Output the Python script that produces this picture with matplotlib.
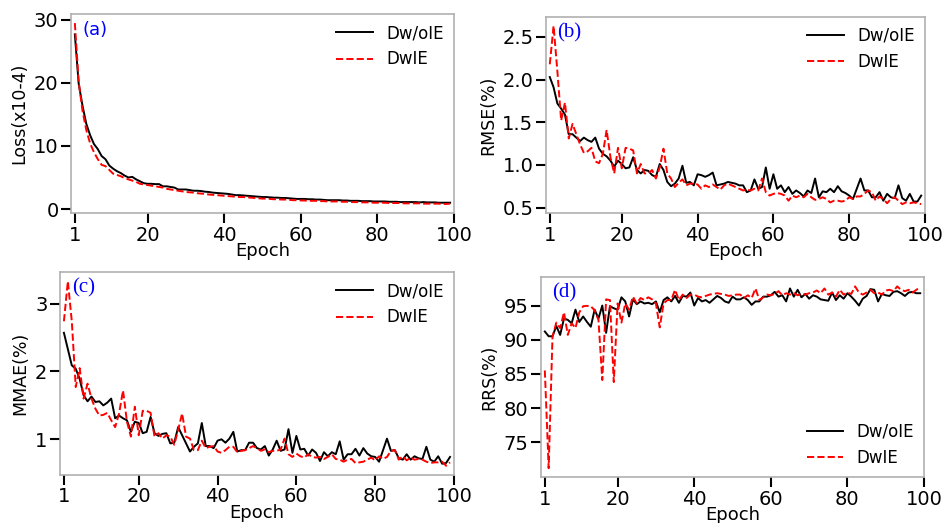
import numpy as np
import matplotlib
matplotlib.use("Agg")
from matplotlib import pyplot as plt

epochs = list(range(1, 100))

# (a) loss (x10-4)
loss_wo = [27.7, 19.9, 16.4, 13.5, 11.7, 10.3, 9.5, 8.4, 7.9, 6.9,
           6.4, 6.0, 5.7, 5.3, 5.0, 5.1, 4.7, 4.4, 4.1, 4.0,
           4.0, 3.95, 3.95, 3.6, 3.6, 3.5, 3.4, 3.1, 3.1, 3.1,
           3.0, 2.9, 2.9, 2.85, 2.75, 2.7, 2.6, 2.55, 2.5, 2.45,
           2.4, 2.3, 2.2, 2.2, 2.15, 2.1, 2.05, 2.0, 1.95, 1.9,
           1.9, 1.85, 1.8, 1.8, 1.75, 1.75, 1.7, 1.65, 1.6, 1.6,
           1.6, 1.55, 1.55, 1.5, 1.5, 1.45, 1.4, 1.4, 1.4, 1.4,
           1.35, 1.35, 1.3, 1.3, 1.3, 1.25, 1.25, 1.25, 1.2, 1.2,
           1.2, 1.2, 1.15, 1.15, 1.15, 1.1, 1.1, 1.1, 1.1, 1.1,
           1.05, 1.1, 1.05, 1.05, 1.05, 1.0, 1.0, 1.0, 1.0]
loss_w = [29.5, 20.2, 15.6, 12.5, 10.4, 9.0, 7.9, 7.0, 6.8, 6.2,
          5.6, 5.4, 5.2, 4.9, 4.7, 4.5, 4.3, 4.0, 3.9, 3.8,
          3.7, 3.6, 3.5, 3.4, 3.2, 3.1, 3.0, 2.9, 2.8, 2.7,
          2.65, 2.6, 2.5, 2.45, 2.4, 2.3, 2.25, 2.2, 2.15, 2.1,
          2.05, 2.0, 1.95, 1.9, 1.9, 1.85, 1.8, 1.75, 1.7, 1.65,
          1.65, 1.6, 1.55, 1.55, 1.5, 1.5, 1.45, 1.4, 1.4, 1.35,
          1.35, 1.3, 1.3, 1.3, 1.25, 1.25, 1.2, 1.2, 1.2, 1.2,
          1.15, 1.15, 1.1, 1.1, 1.1, 1.05, 1.05, 1.05, 1.0, 1.0,
          1.0, 1.0, 0.95, 0.95, 0.95, 0.95, 0.9, 0.9, 0.9, 0.9,
          0.9, 0.85, 0.85, 0.85, 0.85, 0.85, 0.8, 0.8, 0.85]

# (b) RMSE (%)
rmse_wo = [2.03, 1.91, 1.72, 1.66, 1.59, 1.36, 1.36, 1.32, 1.28, 1.32,
           1.29, 1.27, 1.32, 1.19, 1.13, 1.10, 1.05, 0.98, 1.05, 1.01,
           0.96, 0.97, 1.09, 0.94, 0.90, 0.94, 0.93, 0.88, 0.86, 1.01,
           0.94, 0.80, 0.75, 0.78, 0.84, 0.99, 0.79, 0.80, 0.76, 0.89,
           0.88, 0.86, 0.88, 0.91, 0.76, 0.77, 0.78, 0.80, 0.79, 0.78,
           0.76, 0.76, 0.68, 0.70, 0.83, 0.72, 0.74, 0.97, 0.72, 0.89,
           0.72, 0.76, 0.68, 0.74, 0.66, 0.70, 0.67, 0.63, 0.70, 0.67,
           0.84, 0.62, 0.69, 0.68, 0.72, 0.68, 0.75, 0.69, 0.67, 0.64,
           0.60, 0.72, 0.84, 0.70, 0.70, 0.62, 0.62, 0.68, 0.58, 0.66,
           0.62, 0.61, 0.76, 0.61, 0.58, 0.66, 0.57, 0.57, 0.64]
rmse_w = [2.18, 2.63, 2.10, 1.52, 1.73, 1.31, 1.48, 1.36, 1.24, 1.14,
          1.16, 1.20, 1.04, 1.02, 1.13, 1.41, 1.09, 0.90, 1.20, 0.96,
          1.20, 1.19, 1.17, 0.90, 1.01, 0.90, 0.90, 0.94, 0.84, 0.97,
          1.19, 0.90, 0.84, 0.74, 0.79, 0.83, 0.76, 0.78, 0.78, 0.77,
          0.72, 0.76, 0.74, 0.77, 0.74, 0.71, 0.76, 0.78, 0.76, 0.74,
          0.72, 0.70, 0.71, 0.70, 0.72, 0.70, 0.84, 0.68, 0.64, 0.66,
          0.67, 0.66, 0.64, 0.58, 0.64, 0.62, 0.64, 0.62, 0.66, 0.62,
          0.59, 0.60, 0.62, 0.60, 0.56, 0.58, 0.58, 0.57, 0.58, 0.62,
          0.60, 0.63, 0.63, 0.66, 0.70, 0.68, 0.58, 0.63, 0.60, 0.55,
          0.60, 0.62, 0.58, 0.54, 0.56, 0.55, 0.56, 0.55, 0.54]

# (c) MMAE (%)
mmae_wo = [2.57, 2.33, 2.09, 2.04, 1.89, 1.65, 1.56, 1.63, 1.55, 1.56,
           1.50, 1.54, 1.60, 1.31, 1.35, 1.31, 1.28, 1.11, 1.26, 1.24,
           1.09, 1.11, 1.33, 1.09, 1.05, 1.08, 1.09, 0.94, 0.95, 1.18,
           1.06, 0.94, 0.82, 0.89, 0.94, 1.24, 0.90, 0.90, 0.87, 0.98,
           1.00, 0.95, 1.01, 1.11, 0.82, 0.84, 0.84, 0.95, 0.95, 0.87,
           0.85, 0.90, 0.76, 0.85, 0.98, 0.83, 0.85, 1.15, 0.80, 1.05,
           0.85, 0.86, 0.76, 0.85, 0.80, 0.68, 0.81, 0.75, 0.81, 0.78,
           0.97, 0.70, 0.78, 0.78, 0.86, 0.76, 0.87, 0.79, 0.75, 0.74,
           0.67, 0.84, 1.01, 0.83, 0.84, 0.72, 0.70, 0.78, 0.70, 0.75,
           0.72, 0.71, 0.89, 0.70, 0.67, 0.75, 0.64, 0.65, 0.74]
mmae_w = [2.74, 3.33, 2.74, 1.77, 2.05, 1.60, 1.82, 1.60, 1.45, 1.35,
          1.36, 1.39, 1.28, 1.18, 1.38, 1.72, 1.26, 1.04, 1.48, 1.06,
          1.42, 1.42, 1.39, 1.04, 1.09, 1.01, 1.06, 1.04, 0.92, 1.14,
          1.38, 1.04, 1.01, 0.84, 0.84, 0.98, 0.87, 0.89, 0.90, 0.82,
          0.80, 0.84, 0.89, 0.89, 0.81, 0.83, 0.84, 0.87, 0.90, 0.87,
          0.83, 0.85, 0.81, 0.83, 0.83, 0.85, 1.01, 0.78, 0.74, 0.79,
          0.75, 0.73, 0.78, 0.74, 0.73, 0.74, 0.71, 0.74, 0.78, 0.71,
          0.70, 0.67, 0.70, 0.71, 0.65, 0.66, 0.67, 0.70, 0.73, 0.69,
          0.75, 0.71, 0.74, 0.83, 0.84, 0.70, 0.75, 0.69, 0.73, 0.70,
          0.71, 0.70, 0.67, 0.65, 0.66, 0.66, 0.67, 0.61, 0.66]

# (d) RRS (%)
rrs_wo = [91.2, 90.5, 90.5, 92.0, 90.7, 93.1, 92.9, 92.4, 94.4, 92.6,
          93.4, 92.6, 91.9, 94.4, 93.1, 95.0, 91.0, 94.9, 94.6, 94.4,
          96.2, 95.6, 93.4, 95.9, 95.2, 95.6, 95.3, 95.4, 95.2, 95.6,
          94.0, 95.8, 96.2, 95.6, 96.4, 95.4, 96.4, 96.3, 96.9, 95.0,
          96.1, 95.6, 95.8, 95.4, 95.9, 96.4, 96.1, 95.6, 95.4, 96.3,
          95.9, 95.9, 96.2, 95.8, 95.1, 95.6, 95.6, 96.3, 96.3, 96.5,
          97.0, 96.3, 96.5, 95.6, 97.5, 96.3, 97.3, 96.2, 96.7, 96.0,
          96.5, 96.3, 95.9, 95.8, 95.7, 96.9, 95.8, 96.5, 96.0, 96.8,
          96.3, 95.7, 95.0, 96.0, 96.4, 97.4, 97.3, 95.6, 96.7, 96.5,
          96.4, 97.0, 97.1, 96.8, 96.4, 96.9, 97.0, 96.8, 96.8]
rrs_w = [85.5, 71.2, 90.4, 92.5, 91.7, 94.0, 90.7, 92.4, 91.7, 94.0,
         94.9, 94.95, 94.9, 94.3, 92.9, 84.1, 95.9, 95.8, 83.8, 95.3,
         92.5, 95.3, 94.4, 96.3, 95.3, 96.1, 95.8, 96.2, 95.9, 95.3,
         91.8, 95.3, 95.8, 95.8, 97.3, 95.8, 96.6, 96.1, 96.6, 96.6,
         96.3, 96.2, 96.4, 96.6, 96.7, 96.8, 96.7, 96.6, 96.4, 96.5,
         96.6, 96.6, 96.1, 96.5, 96.1, 97.5, 95.8, 96.2, 96.6, 96.5,
         96.7, 97.1, 96.5, 96.8, 96.6, 96.8, 96.5, 96.7, 96.6, 96.8,
         96.9, 97.2, 96.8, 97.5, 96.6, 96.9, 96.3, 97.3, 96.6, 96.9,
         96.7, 97.8, 96.9, 96.6, 96.9, 97.3, 96.8, 96.9, 96.6, 97.2,
         97.3, 97.1, 97.8, 97.3, 97.1, 97.3, 96.9, 97.3, 97.7]

panels = [
    # (rect in figure fraction, wo, w, ylabel, tag, tag font, legend loc, yticks)
    ([0.0753, 0.5927, 0.4061, 0.3805], loss_wo, loss_w, 'Loss(x10-4)', '(a)', 'DejaVu Sans', 'upper right', None),
    ([0.5790, 0.5927, 0.4019, 0.3748], rmse_wo, rmse_w, 'RMSE(%)', '(b)', 'Liberation Serif', 'upper right', [0.5, 1.0, 1.5, 2.0, 2.5]),
    ([0.0636, 0.0918, 0.4178, 0.3881], mmae_wo, mmae_w, 'MMAE(%)', '(c)', 'Liberation Serif', 'upper right', [1, 2, 3]),
    ([0.5737, 0.0874, 0.4062, 0.3824], rrs_wo, rrs_w, 'RRS(%)', '(d)', 'Liberation Serif', 'lower right', [75, 80, 85, 90, 95]),
]

fig = plt.figure(figsize=(9.43, 5.23), dpi=100)

for rect, wo, w, ylabel, tag, tagfont, loc, yt in panels:
    ax = fig.add_axes(rect)
    ax.plot(epochs, wo, color='black', lw=1.4, label='Dw/oIE')
    ax.plot(epochs, w, color='red', lw=1.4, ls='--', label='DwIE')
    ax.set_xlim(0, 100)
    ax.set_xticks([1, 20, 40, 60, 80, 100])
    if yt is not None:
        ax.set_yticks(yt)
    ax.set_xlabel('Epoch', fontsize=13, labelpad=-2)
    ax.set_ylabel(ylabel, fontsize=12.5, labelpad=4)
    ax.tick_params(axis='both', direction='out', length=7, width=1.5,
                   labelsize=14, pad=2, color='black')
    for sp in ax.spines.values():
        sp.set_color('#b0b0b0')
        sp.set_linewidth(1.2)
    ax.legend(loc=loc, frameon=False, fontsize=12, borderaxespad=0.2,
              handlelength=2.2, labelspacing=0.5)
    tagsize = 13 if tag == '(a)' else 15
    ax.text(0.03, 0.92, tag, transform=ax.transAxes, color='blue',
            fontsize=tagsize, family=tagfont, va='center', ha='left')

plt.savefig('out.png', dpi=100)
